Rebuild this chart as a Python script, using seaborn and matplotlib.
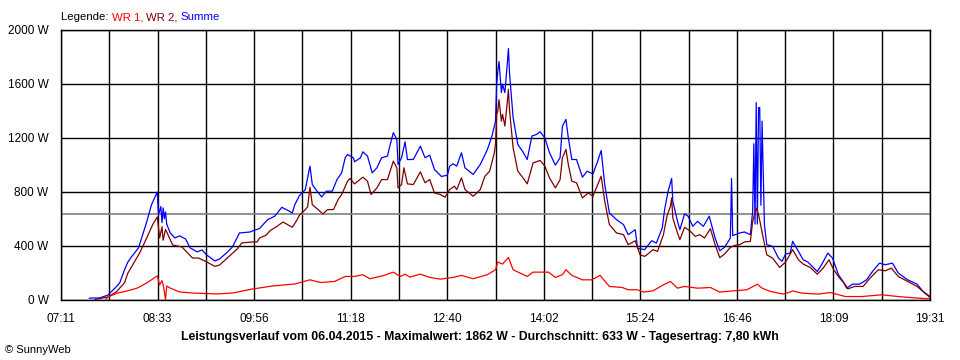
import matplotlib
matplotlib.use("Agg")
import matplotlib.pyplot as plt
import seaborn as sns
import pandas as pd
import numpy as np

# ---------------- data ----------------
X_LABELS = ["07:11", "08:33", "09:56", "11:18", "12:40", "14:02", "15:24", "16:46", "18:09", "19:31"]
Y_TICKS = [0, 400, 800, 1200, 1600, 2000]
AVERAGE_W = 633

WR1 = [("07:49", 0), ("07:51", 19), ("07:59", 48), ("08:07", 63), ("08:16", 85), ("08:24", 123),
       ("08:33", 175), ("08:35", 108), ("08:37", 140), ("08:38", 110), ("08:40", 0), ("08:41", 100),
       ("08:44", 85), ("08:52", 56), ("09:03", 48), ("09:24", 41), ("09:37", 48), ("09:54", 78),
       ("10:11", 100), ("10:30", 115), ("10:43", 146), ("10:52", 126), ("11:04", 134), ("11:13", 171),
       ("11:21", 171), ("11:28", 184), ("11:34", 154), ("11:45", 176), ("11:54", 203), ("12:00", 171),
       ("12:04", 188), ("12:08", 166), ("12:17", 188), ("12:25", 164), ("12:34", 151), ("12:45", 164),
       ("12:52", 179), ("13:02", 154), ("13:14", 184), ("13:21", 221), ("13:23", 278), ("13:27", 263),
       ("13:32", 312), ("13:36", 221), ("13:42", 196), ("13:48", 171), ("13:53", 203), ("14:06", 203),
       ("14:12", 164), ("14:18", 184), ("14:21", 221), ("14:26", 179), ("14:35", 146), ("14:43", 146),
       ("14:50", 179), ("14:58", 97), ("15:09", 89), ("15:14", 72), ("15:22", 72), ("15:27", 55),
       ("15:35", 64), ("15:44", 109), ("15:50", 134), ("15:56", 84), ("16:02", 97), ("16:13", 84),
       ("16:24", 89), ("16:32", 55), ("16:43", 64), ("16:55", 72), ("17:04", 114), ("17:08", 84),
       ("17:15", 60), ("17:26", 40), ("17:32", 55), ("17:34", 64), ("17:42", 47), ("17:56", 40),
       ("18:06", 52), ("18:19", 22), ("18:33", 22), ("18:50", 35), ("19:04", 22), ("19:21", 10),
       ("19:31", 5)]

WR2 = [("07:40", 0), ("07:51", 19), ("07:58", 56), ("08:05", 123), ("08:08", 197), ("08:12", 256),
       ("08:18", 346), ("08:24", 457), ("08:29", 554), ("08:33", 613), ("08:35", 457), ("08:37", 540),
       ("08:38", 440), ("08:40", 520), ("08:41", 502), ("08:46", 405), ("08:50", 397), ("08:54", 390),
       ("08:58", 353), ("09:03", 308), ("09:08", 308), ("09:15", 279), ("09:22", 246), ("09:26", 256),
       ("09:31", 295), ("09:41", 375), ("09:45", 420), ("09:54", 427), ("09:58", 427), ("10:00", 456),
       ("10:06", 479), ("10:09", 511), ("10:15", 543), ("10:20", 575), ("10:28", 536), ("10:32", 591),
       ("10:34", 625), ("10:39", 667), ("10:41", 687), ("10:43", 833), ("10:45", 704), ("10:50", 667),
       ("10:54", 635), ("10:58", 667), ("11:03", 667), ("11:07", 742), ("11:10", 779), ("11:15", 878),
       ("11:17", 898), ("11:21", 858), ("11:28", 908), ("11:32", 878), ("11:35", 779), ("11:40", 828),
       ("11:44", 890), ("11:49", 890), ("11:54", 1027), ("11:57", 977), ("11:58", 828), ("12:01", 853),
       ("12:03", 977), ("12:06", 858), ("12:11", 853), ("12:17", 947), ("12:21", 866), ("12:25", 890),
       ("12:29", 791), ("12:34", 779), ("12:38", 759), ("12:42", 816), ("12:46", 841), ("12:48", 816),
       ("12:52", 903), ("12:55", 816), ("13:02", 766), ("13:08", 816), ("13:12", 915), ("13:16", 952),
       ("13:20", 1089), ("13:21", 1150), ("13:22", 1374), ("13:23", 1399), ("13:24", 1483), ("13:26", 1324),
       ("13:27", 1374), ("13:29", 1287), ("13:31", 1461), ("13:32", 1560), ("13:33", 1399), ("13:36", 1126),
       ("13:40", 952), ("13:44", 908), ("13:48", 858), ("13:53", 1014), ("13:59", 1032), ("14:03", 990),
       ("14:07", 903), ("14:12", 828), ("14:16", 890), ("14:18", 1052), ("14:21", 1114), ("14:23", 1002),
       ("14:26", 878), ("14:30", 866), ("14:35", 754), ("14:40", 791), ("14:44", 766), ("14:48", 853),
       ("14:51", 915), ("14:54", 729), ("14:58", 556), ("15:04", 494), ("15:10", 481), ("15:14", 407),
       ("15:20", 436), ("15:24", 332), ("15:28", 320), ("15:30", 332), ("15:35", 370), ("15:39", 357),
       ("15:44", 481), ("15:47", 618), ("15:50", 692), ("15:51", 754), ("15:52", 605), ("15:56", 494),
       ("15:58", 444), ("16:02", 536), ("16:07", 506), ("16:11", 469), ("16:15", 481), ("16:19", 456),
       ("16:24", 526), ("16:28", 407), ("16:32", 310), ("16:36", 337), ("16:41", 387), ("16:45", 402),
       ("16:49", 407), ("16:53", 427), ("16:58", 431), ("17:00", 580), ("17:03", 679), ("17:05", 630),
       ("17:07", 543), ("17:09", 456), ("17:12", 332), ("17:17", 307), ("17:23", 238), ("17:28", 278),
       ("17:30", 307), ("17:34", 370), ("17:39", 295), ("17:43", 263), ("17:49", 238), ("17:55", 188),
       ("18:00", 233), ("18:05", 295), ("18:09", 221), ("18:14", 159), ("18:19", 109), ("18:21", 79),
       ("18:27", 97), ("18:34", 97), ("18:40", 159), ("18:47", 221), ("18:53", 213), ("18:58", 233),
       ("19:04", 171), ("19:12", 134), ("19:20", 97), ("19:25", 60), ("19:31", 15)]

SUMME = [("07:35", 10), ("07:44", 12), ("07:51", 33), ("07:57", 85), ("08:01", 123), ("08:05", 219),
         ("08:08", 279), ("08:11", 316), ("08:17", 383), ("08:24", 576), ("08:28", 702), ("08:33", 798),
         ("08:34", 628), ("08:36", 690), ("08:37", 570), ("08:38", 680), ("08:39", 600), ("08:40", 650),
         ("08:41", 560), ("08:44", 494), ("08:48", 457), ("08:52", 472), ("08:57", 450), ("09:01", 383),
         ("09:07", 353), ("09:11", 368), ("09:15", 331), ("09:22", 286), ("09:26", 301), ("09:32", 346),
         ("09:37", 390), ("09:43", 494), ("09:52", 501), ("09:54", 509), ("10:00", 526), ("10:07", 593),
         ("10:13", 618), ("10:19", 684), ("10:23", 667), ("10:28", 642), ("10:30", 702), ("10:34", 770),
         ("10:39", 815), ("10:43", 990), ("10:45", 853), ("10:49", 804), ("10:53", 761), ("10:57", 804),
         ("11:02", 804), ("11:06", 890), ("11:10", 940), ("11:13", 1052), ("11:15", 1076), ("11:20", 1052),
         ("11:21", 1022), ("11:26", 1052), ("11:28", 1096), ("11:32", 1064), ("11:36", 940), ("11:40", 977),
         ("11:44", 1052), ("11:49", 1064), ("11:51", 1138), ("11:54", 1238), ("11:57", 1188), ("11:58", 1002),
         ("12:01", 1052), ("12:04", 1170), ("12:06", 1039), ("12:11", 1039), ("12:17", 1138), ("12:21", 1052),
         ("12:25", 1071), ("12:29", 965), ("12:35", 913), ("12:40", 923), ("12:42", 990), ("12:45", 1007),
         ("12:48", 990), ("12:52", 1089), ("12:55", 977), ("13:02", 928), ("13:08", 1002), ("13:14", 1111),
         ("13:18", 1213), ("13:21", 1324), ("13:22", 1597), ("13:23", 1696), ("13:24", 1766), ("13:26", 1535),
         ("13:27", 1597), ("13:29", 1535), ("13:31", 1746), ("13:32", 1862), ("13:33", 1672), ("13:36", 1349),
         ("13:40", 1150), ("13:44", 1101), ("13:48", 1039), ("13:52", 1213), ("13:56", 1225), ("13:59", 1245),
         ("14:03", 1200), ("14:07", 1089), ("14:12", 997), ("14:16", 1052), ("14:18", 1287), ("14:21", 1337),
         ("14:23", 1200), ("14:26", 1039), ("14:30", 1039), ("14:35", 908), ("14:39", 952), ("14:44", 932),
         ("14:48", 1027), ("14:51", 1106), ("14:54", 853), ("14:58", 642), ("15:04", 593), ("15:10", 556),
         ("15:14", 481), ("15:20", 518), ("15:22", 380), ("15:28", 370), ("15:34", 436), ("15:38", 419),
         ("15:43", 531), ("15:45", 667), ("15:48", 804), ("15:51", 898), ("15:52", 729), ("15:56", 580),
         ("15:58", 518), ("16:02", 635), ("16:05", 618), ("16:09", 543), ("16:13", 580), ("16:18", 543),
         ("16:23", 618), ("16:28", 456), ("16:32", 362), ("16:36", 387), ("16:41", 456), ("16:42", 898),
         ("16:43", 474), ("16:49", 494), ("16:53", 501), ("16:58", 481), ("17:00", 655), ("17:01", 1156),
         ("17:02", 560), ("17:03", 1461), ("17:04", 560), ("17:05", 1424), ("17:06", 1424), ("17:07", 700),
         ("17:08", 1324), ("17:10", 556), ("17:12", 407), ("17:17", 394), ("17:22", 307), ("17:25", 283),
         ("17:28", 337), ("17:32", 345), ("17:34", 432), ("17:39", 357), ("17:43", 295), ("17:47", 278),
         ("17:55", 208), ("17:59", 263), ("18:04", 345), ("18:08", 307), ("18:13", 184), ("18:17", 134),
         ("18:20", 84), ("18:25", 114), ("18:31", 114), ("18:37", 146), ("18:42", 208), ("18:48", 270),
         ("18:53", 258), ("18:59", 270), ("19:04", 196), ("19:12", 146), ("19:20", 114), ("19:25", 60),
         ("19:31", 22)]

TITLE = ("Leistungsverlauf vom 06.04.2015 - Maximalwert: 1862 W - Durchschnitt: 633 W - "
         "Tagesertrag: 7,80 kWh")

COLORS = {"WR 1": "#FF0000", "WR 2": "#800000", "Summe": "#0000FF"}


def to_min(s):
    h, m = s.split(":")
    return int(h) * 60 + int(m)


frames = []
for name, series in [("Summe", SUMME), ("WR 2", WR2), ("WR 1", WR1)]:
    frames.append(pd.DataFrame({"min": [to_min(t) for t, _ in series],
                                "W": [v for _, v in series],
                                "series": name}))
df = pd.concat(frames, ignore_index=True)

# ---------------- figure ----------------
sns.set_theme(style="white")
plt.rcParams["font.family"] = ["Liberation Sans", "DejaVu Sans"]
FS = 8.5

fig = plt.figure(figsize=(9.6, 3.6), dpi=100)
fig.patch.set_facecolor("white")
ax = fig.add_axes([61 / 960, 1 - 299.5 / 360, (930 - 61) / 960, (299.5 - 30) / 360])
ax.set_facecolor("white")

x0, x1 = to_min(X_LABELS[0]), to_min(X_LABELS[-1])
n_int = 2 * (len(X_LABELS) - 1)
xticks = [x0 + i * (x1 - x0) / n_int for i in range(n_int + 1)]
xlabels = [X_LABELS[i // 2] if i % 2 == 0 else "" for i in range(n_int + 1)]

ax.set_xlim(x0, x1)
ax.set_ylim(0, 2000)
ax.set_xticks(xticks)
ax.set_xticklabels(xlabels)
ax.set_yticks(Y_TICKS)
ax.set_yticklabels([f"{v} W" for v in Y_TICKS])
ax.grid(True, color="black", lw=1.0, zorder=0)
ax.set_axisbelow(True)

ax.axhline(AVERAGE_W, color="#808080", lw=1.2, zorder=1.5)

sns.lineplot(data=df, x="min", y="W", hue="series", hue_order=["Summe", "WR 2", "WR 1"],
             palette=COLORS, estimator=None, sort=False, legend=False, lw=0.9, ax=ax, zorder=2)

ax.set_xlabel("")
ax.set_ylabel("")
for sp in ax.spines.values():
    sp.set_color("black")
    sp.set_linewidth(1.0)
    sp.set_visible(True)
ax.tick_params(axis="both", which="both", direction="out", colors="black",
               labelsize=FS, width=1.0)
ax.tick_params(axis="x", length=6, pad=4)
ax.tick_params(axis="y", length=5, pad=4)

# legend as coloured text pieces
t = fig.text(61 / 960, 1 - 17 / 360, "Legende: ", color="black", fontsize=FS - 0.3, va="center", ha="left")
prev = t
for txt, col in [("WR 1, ", COLORS["WR 1"]), ("WR 2, ", COLORS["WR 2"]), ("Summe", COLORS["Summe"])]:
    prev = ax.annotate(txt, xy=(1, 0), xycoords=prev, va="bottom", ha="left",
                       color=col, fontsize=FS - 0.3, annotation_clip=False)

fig.text(480 / 960, 1 - 337 / 360, TITLE, ha="center", va="center",
         fontsize=8.8, fontweight="bold", color="black")
fig.text(5 / 960, 1 - 350 / 360, "© SunnyWeb", ha="left", va="center",
         fontsize=FS - 0.5, color="black")

fig.savefig("out.png", dpi=100, facecolor="white")
